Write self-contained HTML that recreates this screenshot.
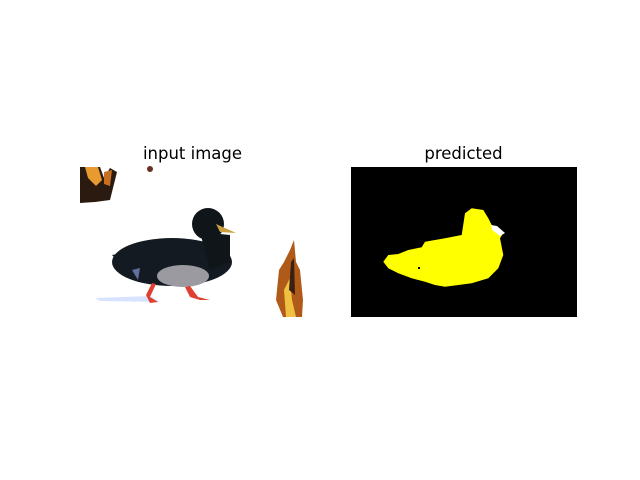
<!DOCTYPE html>
<html><head><meta charset="utf-8"><style>
html,body{margin:0;padding:0;background:#fff;width:640px;height:480px;overflow:hidden}
svg text{font-family:"DejaVu Sans","Liberation Sans",sans-serif;font-size:16.5px;fill:#000}
</style></head><body>
<svg width="640" height="480" viewBox="0 0 640 480">
<text x="192.5" y="159" text-anchor="middle">input image</text>
<text x="463.5" y="159" text-anchor="middle">predicted</text>
<g>
<rect x="80" y="167" width="226" height="150" fill="#fff"/>
<path d="M80,167 L100,167 L104,178 L110,168 L117,172 L113,188 L110,200 L95,202 L80,203 Z" fill="#2a1a10"/>
<path d="M85,167 L98,167 L102,180 L96,186 L88,178 Z" fill="#e89a30"/>
<path d="M104,172 L112,170 L110,186 L104,184 Z" fill="#c87020"/>
<circle cx="150" cy="169" r="3" fill="#6a3020"/>
<path d="M283,317 L276,300 L279,270 L284,262 L290,250 L294,240 L296,262 L300,270 L303,300 L302,317 Z" fill="#b05a1a"/>
<path d="M286,317 L284,290 L290,278 L292,300 L296,317 Z" fill="#f0c040"/>
<path d="M289,290 L291,262 L294,258 L295,295 Z" fill="#3a2010"/>
<path d="M95,298 L150,296 L160,302 L100,301 Z" fill="#d8e4ff"/>
<ellipse cx="172" cy="262" rx="60" ry="24" fill="#141a22"/>
<path d="M112,255 L140,250 L150,275 L128,272 Z" fill="#141a22"/>
<ellipse cx="183" cy="276" rx="26" ry="11" fill="#9a9aa0"/>
<path d="M132,270 L140,268 L138,280 Z" fill="#6070a0"/>
<circle cx="208" cy="224" r="16" fill="#10151a"/>
<path d="M200,232 L230,235 L230,262 L210,270 Z" fill="#10151a"/>
<path d="M216,224 L236,233 L220,232 Z" fill="#c8a040"/>
<path d="M152,283 L146,295 L150,303 L158,302 L150,297 L156,284 Z" fill="#e04030"/>
<path d="M185,287 L190,297 L200,300 L210,300 L198,297 L190,286 Z" fill="#e04030"/>
</g>
<g>
<rect x="351" y="167" width="226" height="150" fill="#000"/>
<polygon fill="#ffff00" points="383.3,261.7 388.3,255 398.3,254 408.3,250 421.7,247.3 425,241.7 445,238.3 461.7,235 465,213.3 471.7,208.3 483.3,210 488.3,218.3 491.7,225 498.3,228.3 503.3,233.3 500,238.3 503.3,255 498.3,268.3 488.3,278.3 471.7,283.3 445,286.7 435,285 425,281.7 411.7,278.3 398.3,273.3 388.3,268.3"/>
<polygon fill="#fff" points="491,225 497,226 505,233 500,236 492,230"/>
<rect x="418" y="267" width="2" height="2" fill="#000"/>
</g>
</svg>
</body></html>
